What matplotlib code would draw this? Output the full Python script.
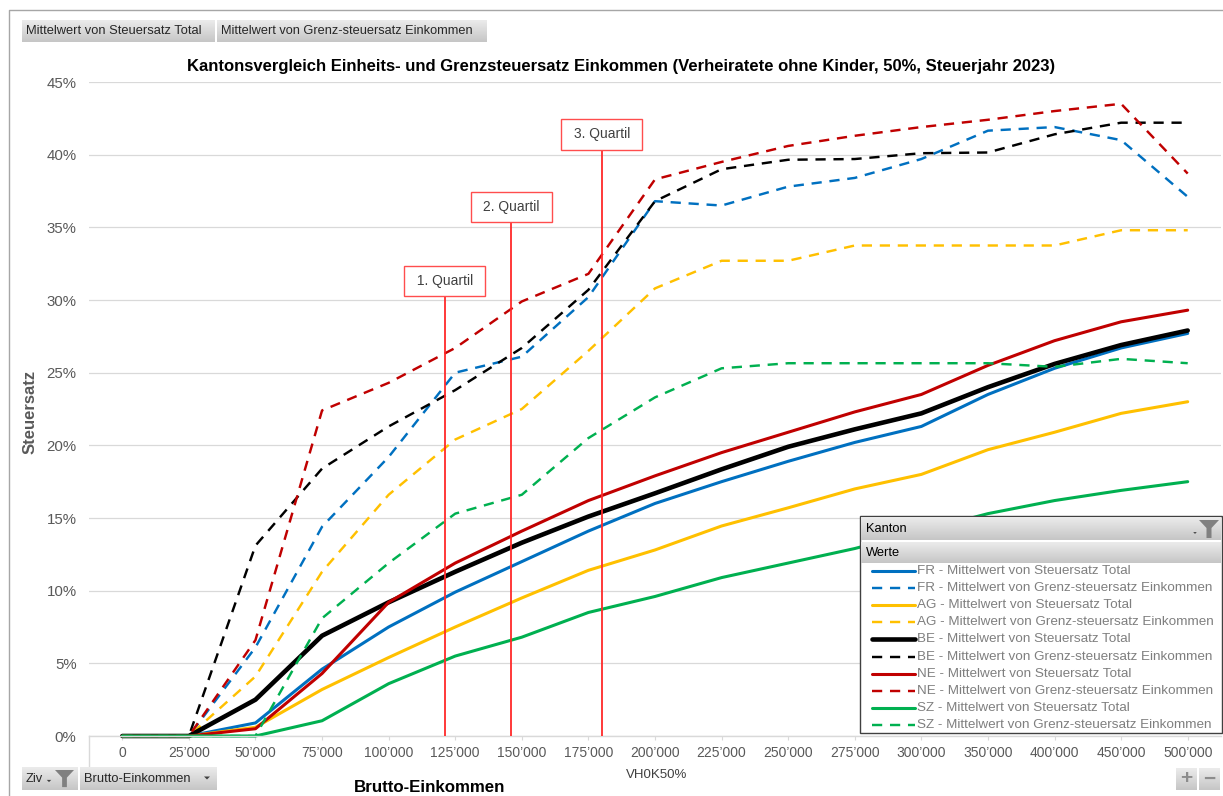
import numpy as np
import matplotlib
matplotlib.use("Agg")
import matplotlib.pyplot as plt
from matplotlib.patches import Rectangle, Polygon
from matplotlib.colors import LinearSegmentedColormap

plt.rcParams['font.family'] = ['Liberation Sans', 'DejaVu Sans']

W, H = 1223, 796

# Brutto-Einkommen (Kategorien der Pivot-Achse)
incomes = [0, 25000, 50000, 75000, 100000, 125000, 150000, 175000, 200000,
           225000, 250000, 275000, 300000, 350000, 400000, 450000, 500000]
income_labels = ["0", "25’000", "50’000", "75’000", "100’000", "125’000",
                 "150’000", "175’000", "200’000", "225’000", "250’000",
                 "275’000", "300’000", "350’000", "400’000", "450’000", "500’000"]

# Steuersätze in Prozent
fr_total = [0, 0, 0.9, 4.6, 7.5, 9.9, 12.0, 14.1, 16.0, 17.5, 18.9, 20.2, 21.3, 23.5, 25.3, 26.7, 27.7]
fr_grenz = [0, 0, 6.1, 14.4, 19.2, 25.0, 26.1, 30.2, 36.8, 36.5, 37.8, 38.4, 39.7, 41.65, 41.9, 41.0, 37.1]
ag_total = [0, 0, 0.6, 3.2, 5.4, 7.5, 9.5, 11.4, 12.8, 14.45, 15.7, 17.0, 18.0, 19.7, 20.9, 22.2, 23.0]
ag_grenz = [0, 0, 4.1, 11.3, 16.6, 20.4, 22.5, 26.5, 30.8, 32.7, 32.7, 33.75, 33.75, 33.75, 33.75, 34.8, 34.8]
be_total = [0, 0, 2.5, 6.9, 9.2, 11.3, 13.3, 15.1, 16.7, 18.35, 19.9, 21.1, 22.2, 24.0, 25.6, 26.9, 27.9]
be_grenz = [0, 0, 13.1, 18.4, 21.3, 23.8, 26.7, 30.7, 36.8, 39.0, 39.65, 39.7, 40.1, 40.15, 41.4, 42.2, 42.2]
ne_total = [0, 0, 0.5, 4.3, 9.2, 11.9, 14.1, 16.2, 17.9, 19.5, 20.9, 22.3, 23.5, 25.5, 27.2, 28.5, 29.3]
ne_grenz = [0, 0, 6.6, 22.4, 24.3, 26.7, 29.9, 31.8, 38.3, 39.5, 40.6, 41.3, 41.9, 42.4, 43.0, 43.5, 38.7]
sz_total = [0, 0, 0, 1.05, 3.6, 5.5, 6.8, 8.5, 9.6, 10.9, 11.9, 12.9, 14.1, 15.3, 16.2, 16.9, 17.5]
sz_grenz = [0, 0, 0, 8.1, 11.9, 15.3, 16.6, 20.5, 23.3, 25.3, 25.65, 25.65, 25.65, 25.65, 25.4, 25.95, 25.65]

kantone = ["FR", "AG", "BE", "NE", "SZ"]
kanton_colors = ["#0070c0", "#ffc000", "#000000", "#c00000", "#00b050"]

quartile_incomes = [121000, 146000, 180000]
quartile_labels = ["1. Quartil", "2. Quartil", "3. Quartil"]
quartile_tops = [30.3, 35.4, 40.4]

series = [
    ("FR", fr_total, fr_grenz),
    ("AG", ag_total, ag_grenz),
    ("BE", be_total, be_grenz),
    ("NE", ne_total, ne_grenz),
    ("SZ", sz_total, sz_grenz),
]


def frame(x0, y0, x1, y1):
    # pixel box (top-left origin) -> figure fraction rect
    return [x0 / W, 1 - y1 / H, (x1 - x0) / W, (y1 - y0) / H]


fig = plt.figure(figsize=(W / 100, H / 100), dpi=100)
ax = fig.add_axes(frame(89, 82, 1221, 736))

pos = np.arange(len(incomes))
styles = []
for (kt, total, grenz), color in zip(series, kanton_colors):
    lw_total = 3.3 if kt == "BE" else 2.2
    ax.plot(pos, total, color=color, lw=lw_total, solid_joinstyle='round',
            solid_capstyle='round', clip_on=False)
    ax.plot(pos, grenz, color=color, lw=1.75, dashes=(4.2, 3.2),
            dash_joinstyle='round', clip_on=False)
    styles.append((kt + " - Mittelwert von Steuersatz Total", color, lw_total, None))
    styles.append((kt + " - Mittelwert von Grenz-steuersatz Einkommen", color, 1.75, (4.2, 3.2)))

# quartile markers
q_pos = np.interp(quartile_incomes, incomes, pos)
for xq, top, lab in zip(q_pos, quartile_tops, quartile_labels):
    ax.plot([xq, xq], [0, top], color="#ff2a2a", lw=1.3, zorder=5)
    ax.text(xq, top + 1.0, " " + lab + " ", ha='center', va='center', fontsize=10, color="#404040",
            bbox=dict(boxstyle='square,pad=0.6', fc='white', ec='#ff4d4d', lw=1.0), zorder=6)

ax.set_xlim(-0.5, len(incomes) - 0.5)
ax.set_ylim(0, 45)
ax.set_xticks(pos)
ax.set_xticklabels(income_labels)
yt = list(range(0, 50, 5))
ax.set_yticks(yt)
ax.set_yticklabels([f"{v}%" for v in yt])
ax.grid(axis='y', color="#d9d9d9", lw=0.9)
ax.set_axisbelow(True)
for s in ("top", "right", "left"):
    ax.spines[s].set_visible(False)
ax.spines["bottom"].set_color("#d9d9d9")
ax.spines["bottom"].set_linewidth(1.0)
ax.tick_params(axis='y', length=0, pad=9, labelsize=10.8, labelcolor="#595959")
ax.tick_params(axis='x', length=3, width=0.8, color="#d9d9d9", pad=4,
               labelsize=10, labelcolor="#595959")

# chart chrome: frame, field buttons, titles, legend panel
ov = fig.add_axes([0, 0, 1, 1])
ov.patch.set_visible(False)
ov.axis('off')

btn_cmap = LinearSegmentedColormap.from_list("btn", ["#ebebeb", "#c6c6c6"])
grad = np.linspace(0, 1, 32).reshape(-1, 1)


def button(x0, y0, x1, y1, z=3):
    ov.imshow(grad, cmap=btn_cmap, extent=(x0, x1, y1, y0), aspect='auto',
              origin='upper', zorder=z, interpolation='bilinear')


def funnel(x, y, s=1.0, z=4):
    pts = [(x, y), (x + 20 * s, y), (x + 12.5 * s, y + 8 * s), (x + 12.5 * s, y + 18 * s),
           (x + 7.5 * s, y + 18 * s), (x + 7.5 * s, y + 8 * s)]
    ov.add_patch(Polygon(pts, closed=True, fc="#808080", ec='none', zorder=z))


def arrow(x, y, s=3, z=4):
    ov.add_patch(Polygon([(x - s, y - s / 2), (x + s, y - s / 2), (x, y + s / 2)],
                         closed=True, fc="#404040", ec='none', zorder=z))


ov.plot([9, 9, W + 5], [H + 5, 10, 10], color="#a6a6a6", lw=1.0)

# value field buttons
button(22, 20, 215, 42)
button(217, 20, 487, 42)
ov.text(26, 31.5, "Mittelwert von Steuersatz Total", fontsize=9.3, color="#262626", va='center')
ov.text(221, 31.5, "Mittelwert von Grenz-steuersatz Einkommen", fontsize=9.2, color="#262626", va='center')

# axis field buttons
button(22, 767, 78, 790)
button(80, 767, 217, 790)
ov.text(26, 778.5, "Ziv", fontsize=9.3, color="#262626", va='center')
arrow(49, 781, s=2.2)
funnel(55, 770, s=0.95)
ov.text(84, 778.5, "Brutto-Einkommen", fontsize=9.3, color="#262626", va='center')
arrow(207, 778, s=3)

# zoom buttons
button(1176, 768, 1197, 790)
button(1199, 768, 1220, 790)
ov.text(1186.5, 779, "+", fontsize=15, fontweight='bold', color="#8c8c8c", ha='center', va='center')
ov.text(1209.5, 779, "−", fontsize=15, fontweight='bold', color="#8c8c8c", ha='center', va='center')

ov.text(621, 67, "Kantonsvergleich Einheits- und Grenzsteuersatz Einkommen "
        "(Verheiratete ohne Kinder, 50%, Steuerjahr 2023)",
        fontsize=12.0, fontweight='bold', color="#000000", ha='center', va='center')
ov.text(30, 412, "Steuersatz", fontsize=12, fontweight='bold', color="#595959",
        rotation=90, ha='center', va='center')
ov.text(430, 788, "Brutto-Einkommen", fontsize=12.2, fontweight='bold', color="#000000",
        ha='center', va='center')
ov.text(657, 775, "VH0K50%", fontsize=9.5, color="#404040", ha='center', va='center')
ov.plot([89, 89], [736, 766], color="#d9d9d9", lw=1.0)

# legend panel
ov.add_patch(Rectangle((860, 516), 362, 217, fc='white', ec="#404040", lw=1.0, zorder=2))
button(861, 517, 1221, 540)
button(861, 542, 1221, 563)
ov.text(866, 528.5, "Kanton", fontsize=9.3, color="#000000", va='center', zorder=5)
ov.text(866, 552.5, "Werte", fontsize=9.3, color="#000000", va='center', zorder=5)
arrow(1195, 533, s=1.8)
funnel(1199, 520, s=1.0)
for i, (lab, color, lw, dashes) in enumerate(styles):
    y = 571 + 17.1 * i
    if dashes is None:
        ov.plot([872, 915], [y, y], color=color, lw=lw, solid_capstyle='round', zorder=4)
    else:
        ov.plot([872, 915], [y, y], color=color, lw=lw, dashes=dashes, zorder=4)
    ov.text(917, y, lab, fontsize=9.7, color="#7f7f7f", va='center', zorder=5)

ov.set_xlim(0, W)
ov.set_ylim(H, 0)

fig.savefig("out.png", dpi=100)
